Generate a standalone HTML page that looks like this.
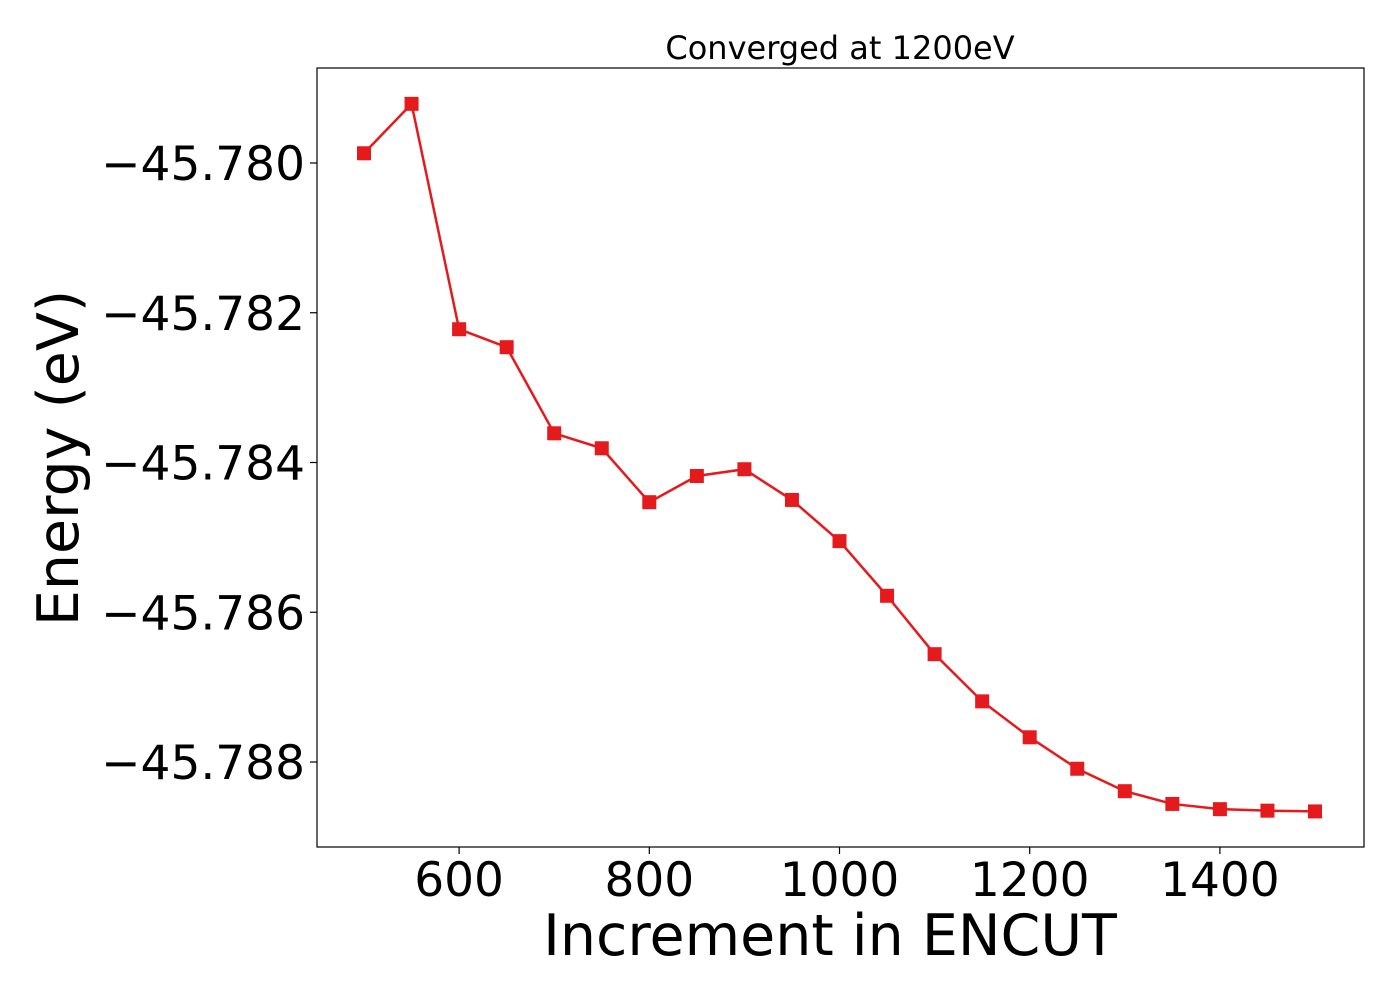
<!DOCTYPE html>
<html><head><meta charset="utf-8"><style>
body{margin:0;background:#fff}
svg text{font-family:"DejaVu Sans","Liberation Sans",sans-serif;fill:#000}
</style></head><body>
<svg width="1400" height="1000">
<rect x="0" y="0" width="1400" height="1000" fill="#fff"/>
<text x="840" y="59" font-size="32" text-anchor="middle">Converged at 1200eV</text>
<g id="axes"></g>
<g id="series"></g>
<rect x="317" y="68" width="1047" height="779" fill="none" stroke="#000" stroke-width="1.2"/>
<text x="830" y="955" font-size="57" text-anchor="middle">Increment in ENCUT</text>
<text transform="translate(78,458) rotate(-90)" font-size="57" text-anchor="middle">Energy (eV)</text>
</svg>
<script>
const xValues=[500,550,600,650,700,750,800,850,900,950,1000,1050,1100,1150,1200,1250,1300,1350,1400,1450,1500];
const energies=[-45.77987,-45.77921,-45.78222,-45.78246,-45.78361,-45.78381,-45.78453,-45.78418,-45.78409,-45.78450,-45.78505,-45.78578,-45.78656,-45.78719,-45.78767,-45.78809,-45.78839,-45.78856,-45.78863,-45.78865,-45.78866];
const xTicks=[600,800,1000,1200,1400];
const yTicks=[-45.780,-45.782,-45.784,-45.786,-45.788];
const yTickLabels=["\u221245.780","\u221245.782","\u221245.784","\u221245.786","\u221245.788"];
const NS="http://www.w3.org/2000/svg";
function sx(v){return 364+(v-500)*0.951;}
function sy(v){return 163+(-45.780-v)*74875;}
const ax=document.getElementById('axes'),se=document.getElementById('series');
function mk(t,a,p){const e=document.createElementNS(NS,t);for(const k in a)e.setAttribute(k,a[k]);p.appendChild(e);return e;}
xTicks.forEach(v=>{
 const l=mk('line',{x1:sx(v),x2:sx(v),y1:847,y2:854,stroke:'#000','stroke-width':1.2},ax);
 
 
 const t=mk('text',{x:sx(v),y:896,'font-size':47,'text-anchor':'middle'},ax);
 t.textContent=v;
 
 
});
yTicks.forEach((v,i)=>{
 const l=mk('line',{x1:310,x2:317,y1:sy(v),y2:sy(v),stroke:'#000','stroke-width':1.2},ax);
 
 
 const t=mk('text',{x:305,y:sy(v)+17,'font-size':47,'text-anchor':'end'},ax);
 t.textContent=yTickLabels[i];
 
 
});
const pl=mk('polyline',{points:xValues.map((x,i)=>sx(x)+','+sy(energies[i])).join(' '),fill:'none',stroke:'#e41a1c','stroke-width':2.5},se);


xValues.forEach((x,i)=>{
 const r=mk('rect',{x:sx(x)-7,y:sy(energies[i])-7,width:14,height:14,fill:'#e41a1c'},se);
 
 
});
</script>
</body></html>
